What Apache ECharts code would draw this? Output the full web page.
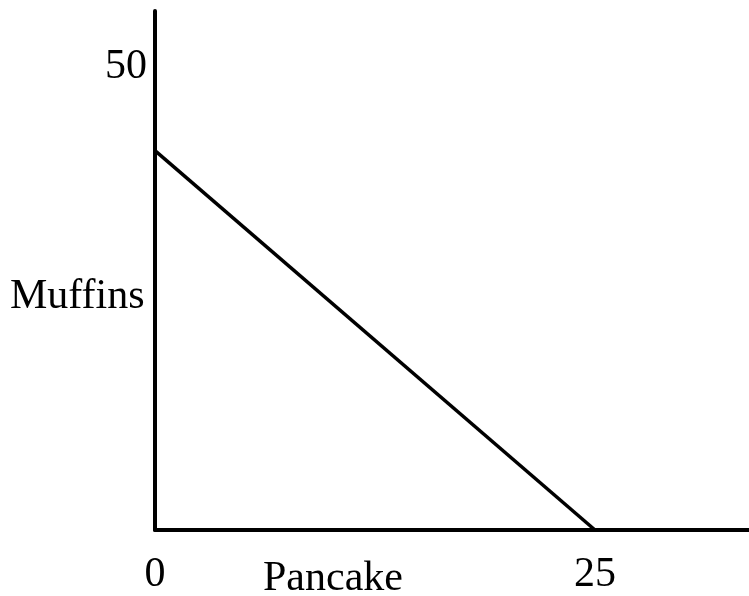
<!DOCTYPE html>
<html>
<head>
<meta charset="utf-8">
<script src="https://cdn.jsdelivr.net/npm/echarts@6/dist/echarts.min.js"></script>
<style>
  html, body { margin: 0; padding: 0; background: #fff; }
  #chart { width: 749px; height: 596px; }
</style>
</head>
<body>
<div id="chart"></div>
<script>
// Budget line: muffins vs pancakes
const pancakes = [0, 25];
const muffins = [41, 0];
const xTicks = [0, 25];
const yTicks = [50];
const xName = 'Pancake';
const yName = 'Muffins';

const serif = "'Liberation Serif', 'Times New Roman', serif";
const chart = echarts.init(document.getElementById('chart'));

chart.setOption({
  backgroundColor: '#ffffff',
  animation: false,
  grid: { left: 155, right: 0, top: 11, bottom: 62 },
  xAxis: {
    type: 'value',
    min: 0,
    max: 33.75,
    interval: 25,
    axisLine: { show: true, onZero: false, lineStyle: { color: '#000', width: 4 } },
    axisTick: { show: false },
    splitLine: { show: false },
    axisLabel: {
      showMaxLabel: false,
      margin: 24,
      color: '#000',
      fontFamily: serif,
      fontSize: 42,
      formatter: v => (xTicks.includes(v) ? String(v) : '')
    }
  },
  yAxis: {
    type: 'value',
    min: 0,
    max: 56.1,
    interval: 50,
    axisLine: { show: true, onZero: false, lineStyle: { color: '#000', width: 4 } },
    axisTick: { show: false },
    splitLine: { show: false },
    axisLabel: {
      showMaxLabel: false,
      margin: 8,
      color: '#000',
      fontFamily: serif,
      fontSize: 42,
      formatter: v => (yTicks.includes(v) ? String(v) : '')
    }
  },
  graphic: [
    {
      type: 'text',
      left: 10,
      top: 276,
      style: { text: yName, fill: '#000', font: '42px ' + serif }
    },
    {
      type: 'text',
      left: 263,
      top: 558,
      style: { text: xName, fill: '#000', font: '42px ' + serif }
    }
  ],
  series: [{
    type: 'line',
    data: pancakes.map((p, i) => [p, muffins[i]]),
    showSymbol: false,
    lineStyle: { color: '#000', width: 3.5 },
    silent: true
  }]
});
</script>
</body>
</html>
